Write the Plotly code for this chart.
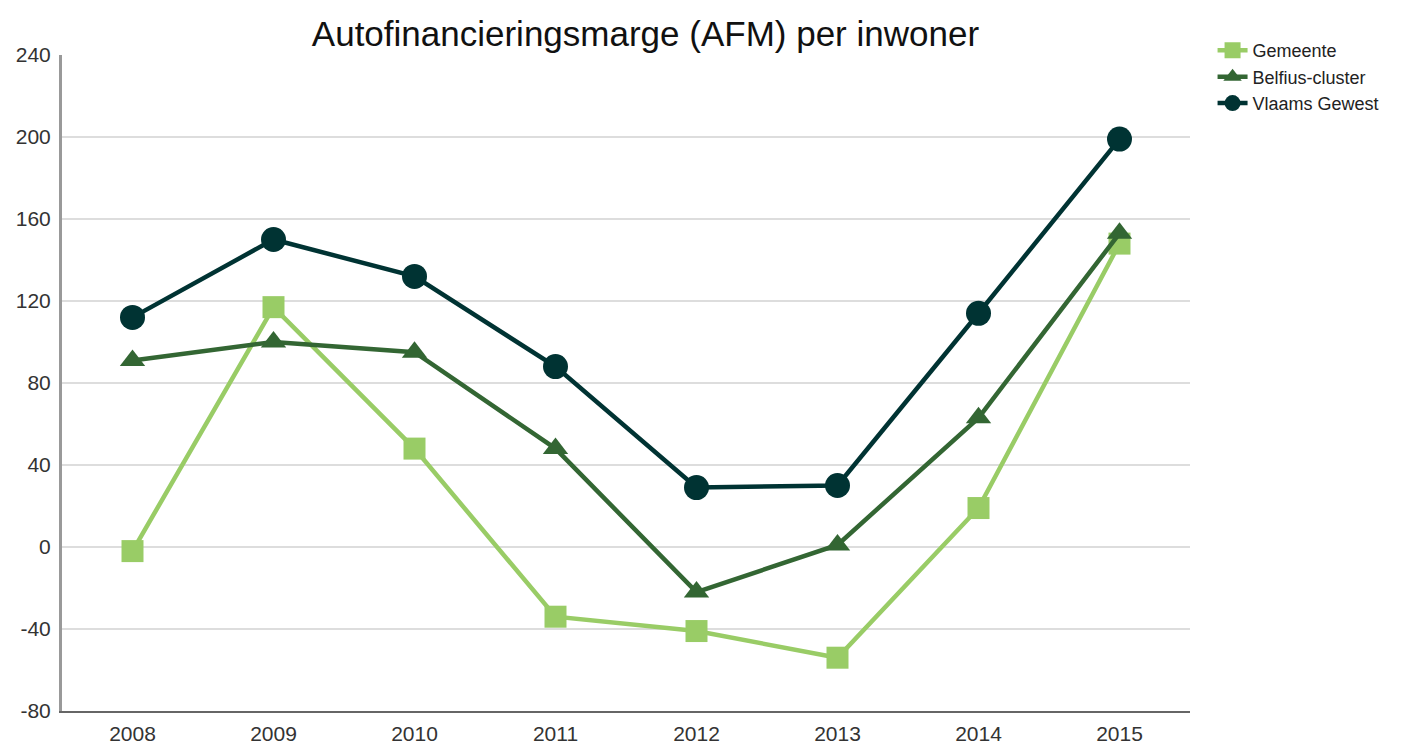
import plotly.graph_objects as go

years = ["2008", "2009", "2010", "2011", "2012", "2013", "2014", "2015"]
gemeente = [-2, 117, 48, -34, -41, -54, 19, 148]
belfius = [91, 100, 95, 48, -22, 1, 63, 153]
vlaams = [112, 150, 132, 88, 29, 30, 114, 199]
y_ticks = [-80, -40, 0, 40, 80, 120, 160, 200, 240]
y_tick_labels = [str(v) for v in y_ticks]

fig = go.Figure()
fig.add_trace(go.Scatter(x=years, y=gemeente, name="Gemeente", mode="lines+markers",
                         line=dict(color="#99cc66", width=4.5),
                         marker=dict(symbol="square", size=22, color="#99cc66")))
fig.add_trace(go.Scatter(x=years, y=belfius, name="Belfius-cluster", mode="lines+markers",
                         line=dict(color="#336633", width=4.5),
                         marker=dict(symbol="triangle-up", size=22, color="#336633")))
fig.add_trace(go.Scatter(x=years, y=vlaams, name="Vlaams Gewest", mode="lines+markers",
                         line=dict(color="#003333", width=4.5),
                         marker=dict(symbol="circle", size=25, color="#003333")))

fig.update_layout(
    width=1401, height=738,
    margin=dict(l=54, r=219, t=47, b=35, autoexpand=False),
    paper_bgcolor="white", plot_bgcolor="white",
    font=dict(family="Liberation Sans, Arial, sans-serif", color="#333333", size=20),
    title=dict(text="Autofinancieringsmarge (AFM) per inwoner", x=0.455, xanchor="center",
               y=0.965, yanchor="middle", font=dict(size=35, color="#111111")),
    legend=dict(x=1.02, y=1.035, xanchor="left", yanchor="top", bgcolor="rgba(0,0,0,0)",
                font=dict(size=18, color="#222222"), itemwidth=30, tracegroupgap=0),
    showlegend=True,
)
fig.update_xaxes(type="category", range=[-0.5, 7.5], showgrid=False, automargin=False,
                 showline=True, linecolor="#666666", linewidth=2,
                 ticks="", ticklabelstandoff=3, tickfont=dict(size=21))
fig.update_yaxes(range=[-80, 240], tickvals=y_ticks, ticktext=y_tick_labels,
                 showgrid=True, gridcolor="#dddddd",
                 gridwidth=2, zeroline=False, showline=True, linecolor="#999999", linewidth=3,
                 automargin=False, ticks="", ticklabelstandoff=4, tickfont=dict(size=21))

fig.write_html("out.html")
